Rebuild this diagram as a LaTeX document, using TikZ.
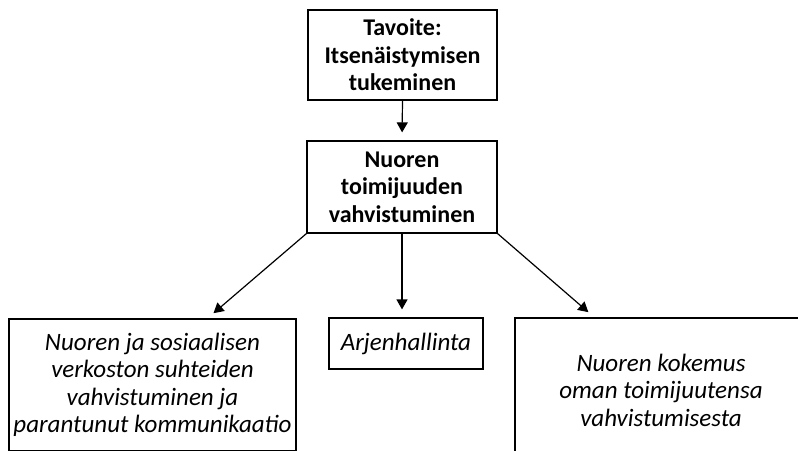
\documentclass[tikz,border=0pt]{standalone}
\usepackage{fontspec}
\setmainfont{Carlito}
\usetikzlibrary{arrows.meta}
\tikzset{
  box/.style={draw=black, line width=1.2pt, fill=white, inner sep=0pt, align=center,
    font=\fontsize{24}{27.5}\selectfont},
  hbox/.style={box, font=\fontsize{24}{27.5}\selectfont\bfseries},
  ibox/.style={box, font=\fontsize{25}{27.5}\selectfont\itshape},
  arr/.style={line width=1.2pt, -{Triangle[width=11pt,length=10pt]}, shorten >=8pt}
}
\begin{document}
\begin{tikzpicture}[x=1pt,y=-1pt]
\useasboundingbox (0,0) rectangle (798,450);
\clip (0,0) rectangle (798,450);
\node[hbox, minimum width=189pt, minimum height=90pt] (top) at (402.5,55) {Tavoite:\\Itsenäistymisen\\tukeminen};
\node[hbox, minimum width=190pt, minimum height=92pt] (mid) at (402,187) {Nuoren\\toimijuuden\\vahvistuminen};
\node[ibox, minimum width=287pt, minimum height=132pt] (lb) at (152.5,385) {Nuoren ja sosiaalisen\\verkoston suhteiden\\vahvistuminen ja\\parantunut kommunikaatio};
\node[ibox, minimum width=154pt, minimum height=51pt] (ar) at (406,343.5) {Arjenhallinta};
\node[ibox, minimum width=292pt, minimum height=144pt] (rb) at (661,390) {Nuoren kokemus\\oman toimijuutensa\\vahvistumisesta};
\draw[arr] (top.south) -- (mid.north);
\draw[arr] (mid.south west) -- ([xshift=199pt]lb.north west);
\draw[arr] (mid.south) -- (mid.south |- ar.north);
\draw[arr] (mid.south east) -- ([xshift=80pt]rb.north west);
\end{tikzpicture}
\end{document}
